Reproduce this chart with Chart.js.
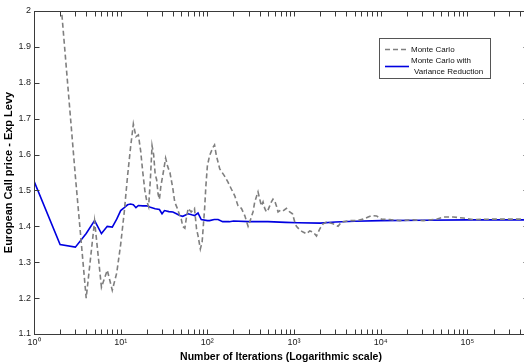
<!DOCTYPE html>
<html>
<head>
<meta charset="utf-8">
<script src="https://cdn.jsdelivr.net/npm/chart.js@4/dist/chart.umd.min.js"></script>
<style>
  html, body { margin: 0; padding: 0; background: #fff; overflow: hidden; }
  #chart { display: block; }
</style>
</head>
<body>
<!-- the original figure is cropped on the right, so the canvas is a bit wider than the window -->
<canvas id="chart" width="540" height="364"></canvas>
<script>
// plain Monte Carlo running estimate (dashed grey)
const mcIterations = [1,2,3,4,5,6,7,8,9,10,11,12,13,14,15,16,17,18,19,20,21,22,23,24,25,26,27,28,29,
  31,33,35,37,40,42,45,48,50,52,55,57,60,65,71,75,78,83,87,93,96,
  100,106,116,121,127,139,158,173,189,207,226,247,270,295,308,336,352,384,402,420,439,459,480,500,524,548,572,600,626,654,700,746,817,892,959,
  1019,1066,1164,1271,1390,1518,1657,1815,1982,2163,2366,2820,3221,3523,4395,5255,6270,7160,7830,8950,
  10200,12700,16600,23700,30900,44100,52600,68600,89500,116700,182000,300000,500000];
const mcPrice = [2.9,2.05,1.54,1.2,1.415,1.23,1.278,1.222,1.27,1.35,1.44,1.54,1.62,1.685,1.65,1.655,1.61,1.55,1.5,1.47,1.455,1.53,1.625,1.6,1.545,1.53,1.49,1.475,1.51,
  1.55,1.59,1.565,1.55,1.505,1.468,1.45,1.43,1.42,1.4,1.395,1.42,1.45,1.44,1.45,1.393,1.374,1.337,1.356,1.45,1.51,
  1.568,1.597,1.62,1.627,1.597,1.56,1.54,1.523,1.504,1.485,1.457,1.45,1.43,1.4,1.412,1.44,1.468,1.496,1.476,1.457,1.468,1.45,1.44,1.445,1.457,1.468,1.476,1.47,1.457,1.44,1.445,1.443,1.45,1.44,1.435,
  1.412,1.4,1.39,1.384,1.379,1.387,1.384,1.373,1.393,1.407,1.412,1.407,1.4,1.412,1.416,1.416,1.42,1.426,1.43,1.429,
  1.42,1.419,1.416,1.418,1.416,1.42,1.426,1.426,1.423,1.419,1.42,1.42,1.42];

// Monte Carlo with variance reduction (solid blue)
const vrIterations = [1,2,3,4,5,6,7,8,9,10,11,12,13,14,15,16,
  18,20,22,25,28,30,32,36,40,44,48,52,60,66,71,78,85,
  100,106,120,133,150,180,200,300,500,800,1100,2000,3000,5000,10000,30000,100000,500000];
const vrPrice = [1.526,1.349,1.342,1.38,1.416,1.38,1.40,1.398,1.42,1.444,1.452,1.46,1.462,1.46,1.452,1.458,
  1.457,1.457,1.453,1.449,1.447,1.435,1.444,1.441,1.44,1.435,1.43,1.428,1.435,1.432,1.43,1.437,1.419,
  1.416,1.416,1.419,1.419,1.413,1.413,1.415,1.413,1.413,1.411,1.41,1.409,1.412,1.414,1.416,1.417,1.418,1.418];

const legendLabels = [['Monte Carlo'], ['Monte Carlo with', 'Variance Reduction']];
const xTickLabels = ['10\u2070', '10\u00b9', '10\u00b2', '10\u00b3', '10\u2074', '10\u2075'];
const xTitle = 'Number of Iterations (Logarithmic scale)';
const yTitle = 'European Call price - Exp Levy';

const FONT = "'Liberation Sans', Arial, sans-serif";
const AXIS_COLOR = '#3a3a3a';

function toPoints(xs, ys) {
  return xs.map((x, i) => ({ x: x, y: ys[i] }));
}

// matlab style box with inward ticks on all four sides
const boxPlugin = {
  id: 'box',
  afterDraw(chart) {
    const ctx = chart.ctx;
    const a = chart.chartArea;
    const xs = chart.scales.x, ys = chart.scales.y;
    const L = Math.round(a.left) + 0.5, R = Math.round(a.right) + 0.5;
    const T = Math.round(a.top) + 0.5, B = Math.round(a.bottom) + 0.5;
    ctx.save();
    ctx.strokeStyle = AXIS_COLOR;
    ctx.lineWidth = 1;
    ctx.strokeRect(L, T, R - L, B - T);
    ctx.beginPath();
    for (let e = 0; e <= 6; e++) {
      for (let m = 1; m <= 9; m++) {
        const v = m * Math.pow(10, e);
        if (v <= xs.min || v >= xs.max) continue;
        const px = Math.round(xs.getPixelForValue(v)) + 0.5;
        ctx.moveTo(px, B); ctx.lineTo(px, B - 5);
        ctx.moveTo(px, T); ctx.lineTo(px, T + 5);
      }
    }
    ys.ticks.forEach(t => {
      const py = Math.round(ys.getPixelForValue(t.value)) + 0.5;
      ctx.moveTo(L, py); ctx.lineTo(L + 5, py);
      ctx.moveTo(R, py); ctx.lineTo(R - 5, py);
    });
    ctx.stroke();
    ctx.restore();
  }
};

const legendPlugin = {
  id: 'boxLegend',
  afterDraw(chart) {
    const ctx = chart.ctx;
    ctx.save();
    ctx.fillStyle = '#fff';
    ctx.fillRect(379, 38, 111, 40);
    ctx.strokeStyle = '#555';
    ctx.lineWidth = 1;
    ctx.strokeRect(379.5, 38.5, 111, 40);

    ctx.font = '8px ' + FONT;
    ctx.fillStyle = '#111';
    ctx.textBaseline = 'middle';

    const ds = chart.data.datasets;
    // grey dashed sample
    ctx.strokeStyle = ds[0].borderColor;
    ctx.lineWidth = 1.5;
    ctx.setLineDash([5, 3]);
    ctx.beginPath(); ctx.moveTo(385, 49.5); ctx.lineTo(409, 49.5); ctx.stroke();
    ctx.fillText(legendLabels[0][0], 411, 50);

    // blue sample
    ctx.setLineDash([]);
    ctx.strokeStyle = ds[1].borderColor;
    ctx.lineWidth = 1.6;
    ctx.beginPath(); ctx.moveTo(385, 66.5); ctx.lineTo(409, 66.5); ctx.stroke();
    ctx.fillText(legendLabels[1][0], 411, 61);
    ctx.fillText(legendLabels[1][1], 414, 72);
    ctx.restore();
  }
};

new Chart(document.getElementById('chart'), {
  type: 'line',
  data: {
    datasets: [
      {
        label: legendLabels[0].join(' '),
        data: toPoints(mcIterations, mcPrice),
        borderColor: '#7f7f7f',
        borderWidth: 1.6,
        borderDash: [5, 3],
        pointRadius: 0,
        tension: 0
      },
      {
        label: legendLabels[1].join(' '),
        data: toPoints(vrIterations, vrPrice),
        borderColor: '#0000e0',
        borderWidth: 1.6,
        pointRadius: 0,
        tension: 0
      }
    ]
  },
  options: {
    responsive: false,
    animation: false,
    devicePixelRatio: 1,
    layout: { padding: { top: 11, right: 12, bottom: 0, left: 0 } },
    plugins: {
      legend: { display: false },
      tooltip: { enabled: false }
    },
    scales: {
      x: {
        type: 'logarithmic',
        min: 1,
        max: 500000,
        grid: { display: false, drawTicks: false, tickLength: 0 },
        border: { display: false },
        afterFit: s => { s.height = 30; },
        ticks: {
          autoSkip: false,
          maxRotation: 0,
          padding: 3,
          color: '#222',
          font: { family: FONT, size: 9 },
          callback: v => {
            const e = Math.log10(v);
            if (Math.abs(e - Math.round(e)) < 1e-9) return xTickLabels[Math.round(e)] || '';
            return '';
          }
        },
        title: {
          display: true,
          text: xTitle,
          color: '#000',
          padding: { top: 0, bottom: 1 },
          font: { family: FONT, size: 10.5, weight: 'bold' }
        }
      },
      y: {
        min: 1.1,
        max: 2,
        grid: { display: false, drawTicks: false, tickLength: 0 },
        border: { display: false },
        afterFit: s => { s.width = 34; },
        ticks: {
          stepSize: 0.1,
          padding: 3,
          color: '#222',
          font: { family: FONT, size: 9 },
          callback: v => String(Math.round(v * 10) / 10)
        },
        title: {
          display: true,
          text: yTitle,
          color: '#000',
          padding: { top: 2, bottom: 0 },
          font: { family: FONT, size: 11, weight: 'bold' }
        }
      }
    }
  },
  plugins: [boxPlugin, legendPlugin]
});
</script>
</body>
</html>
